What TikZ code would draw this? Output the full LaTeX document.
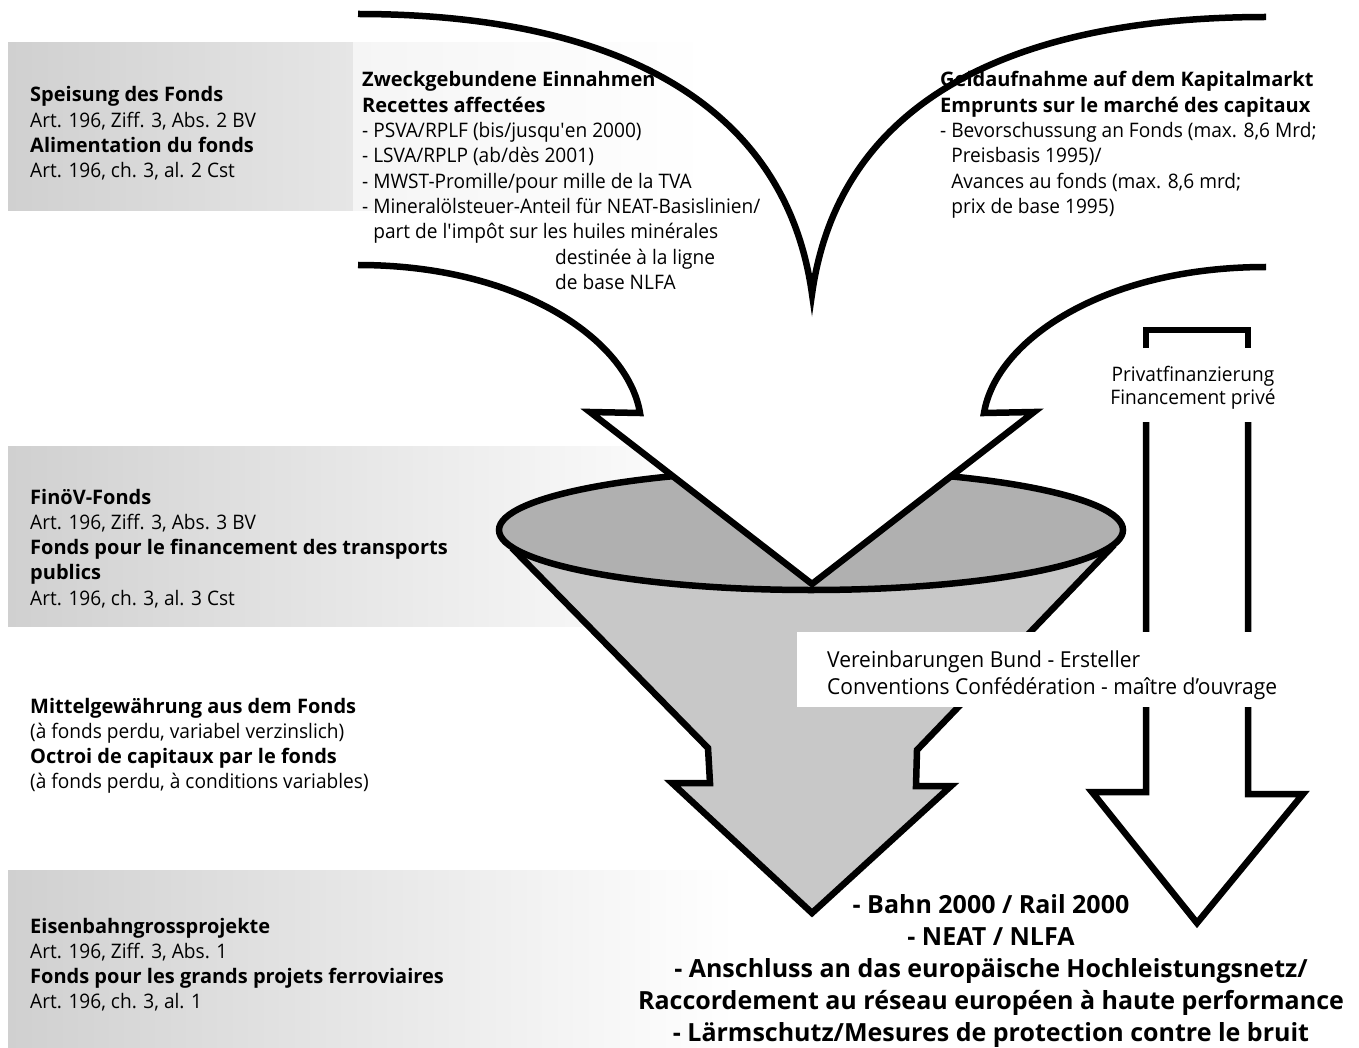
\documentclass[tikz,border=0pt]{standalone}
\usepackage{fontspec}
\setmainfont{Open Sans}[UprightFeatures={FakeStretch=0.955}]
\definecolor{ellgray}{HTML}{B0B0B0}
\definecolor{fungray}{HTML}{C8C8C8}
\definecolor{barl}{HTML}{D0D0D0}
\definecolor{bartop}{HTML}{E6E6E6}
\definecolor{barfaint}{HTML}{F5F5F5}
\newcommand{\blk}[1]{\begin{tabular}[t]{@{}l@{}}#1\end{tabular}}
\newcommand{\cblk}[1]{\begin{tabular}[t]{@{}c@{}}#1\end{tabular}}
\begin{document}
\begin{tikzpicture}[x=1pt,y=-1pt,
  outl/.style={line width=6.5pt, line join=miter},
  txt/.style={anchor=base west, inner sep=0pt, font=\fontsize{20}{25.3}\selectfont},
  bar/.style={left color=barl, right color=white},
]
\useasboundingbox (0,0) rectangle (1359,1048);
% background bars
\fill[left color=barl, right color=bartop] (8,43) rectangle (353,211);
\fill[left color=barfaint, right color=white] (353,43) rectangle (710,211);
\fill[bar] (8,446) rectangle (725,626);
\fill[bar] (8,870) rectangle (735,1048);

% funnel body
\fill[fungray] (512,535) -- (512,548) -- (708,748) -- (710,783) -- (672,783) -- (812,913)
  -- (951,786) -- (916,786) -- (917,750) -- (1114,545) -- (1114,535) -- cycle;
\draw[outl] (512,548) -- (708,748) -- (710,783) -- (672,783) -- (812,913)
  -- (951,786) -- (916,786) -- (917,750) -- (1114,545);
% funnel mouth
\filldraw[fill=ellgray, outl] (811,530) ellipse [x radius=312, y radius=60];

% arrowhead pouring into funnel
\fill[white] (590,412) -- (812,584) -- (1034,412) -- cycle;
\draw[outl] (358,265) .. controls (520,265) and (628,340) .. (640,413) -- (590,412)
  -- (812,584) -- (1034,412) -- (984,413) .. controls (996,340) and (1104,267) .. (1266,267);
\draw[outl] (358,14) .. controls (610,14) and (785,100) .. (812,294)
  .. controls (839,100) and (1014,17) .. (1266,17);

% private financing arrow
\draw[outl] (1146,422) -- (1146,792) -- (1092,792) -- (1197,923) -- (1303,794)
  -- (1248,794) -- (1248,422);
\draw[outl] (1146,348) -- (1146,330) -- (1248,330) -- (1248,348);

% white label box
\fill[white] (797,632) rectangle (1290,707);

% texts
\node[txt] (speis) at (30,102) {\blk{\textbf{Speisung des Fonds}\\Art. 196, Ziff. 3, Abs. 2 BV\\\textbf{Alimentation du fonds}\\Art. 196, ch. 3, al. 2 Cst}};
\node[txt] (finoev) at (30,504) {\blk{\textbf{FinöV-Fonds}\\Art. 196, Ziff. 3, Abs. 3 BV\\\textbf{Fonds pour le financement des transports}\\\textbf{publics}\\Art. 196, ch. 3, al. 3 Cst}};
\node[txt] (mittel) at (30,713) {\blk{\textbf{Mittelgewährung aus dem Fonds}\\(à fonds perdu, variabel verzinslich)\\\textbf{Octroi de capitaux par le fonds}\\(à fonds perdu, à conditions variables)}};
\node[txt] (eisen) at (30,933) {\blk{\textbf{Eisenbahngrossprojekte}\\Art. 196, Ziff. 3, Abs. 1\\\textbf{Fonds pour les grands projets ferroviaires}\\Art. 196, ch. 3, al. 1}};

\node[txt] (zweck) at (362,87) {\blk{\textbf{Zweckgebundene Einnahmen}\\\textbf{Recettes affectées}\\- PSVA/RPLF (bis/jusqu\textquotesingle en 2000)\\- LSVA/RPLP (ab/dès 2001)\\- MWST-Promille/pour mille de la TVA\\- Mineralölsteuer-Anteil für NEAT-Basislinien/\\\hphantom{- }part de l\textquotesingle impôt sur les huiles minérales\\\hspace*{193pt}destinée à la ligne\\\hspace*{193pt}de base NLFA}};
\node[txt] (geld) at (940,87) {\blk{\textbf{Geldaufnahme auf dem Kapitalmarkt}\\\textbf{Emprunts sur le marché des capitaux}\\- Bevorschussung an Fonds (max. 8,6 Mrd;\\\hphantom{- }Preisbasis 1995)/\\\hphantom{- }Avances au fonds (max. 8,6 mrd;\\\hphantom{- }prix de base 1995)}};

\node[anchor=base, inner sep=0pt, font=\fontsize{20}{23}\selectfont] (priv) at (1193,381) {\cblk{Privatfinanzierung\\Financement privé}};
\node[anchor=base west, inner sep=0pt, font=\fontsize{22}{27}\selectfont] (conv) at (827,667) {\blk{Vereinbarungen Bund - Ersteller\\Conventions Confédération - maître d’ouvrage}};

\node[anchor=base, inner sep=0pt, font=\fontsize{25}{32}\selectfont\bfseries] (proj) at (991,913) {\cblk{- Bahn 2000 / Rail 2000\\- NEAT / NLFA\\- Anschluss an das europäische Hochleistungsnetz/\\Raccordement au réseau européen à haute performance\\- Lärmschutz/Mesures de protection contre le bruit}};
\end{tikzpicture}
\end{document}
